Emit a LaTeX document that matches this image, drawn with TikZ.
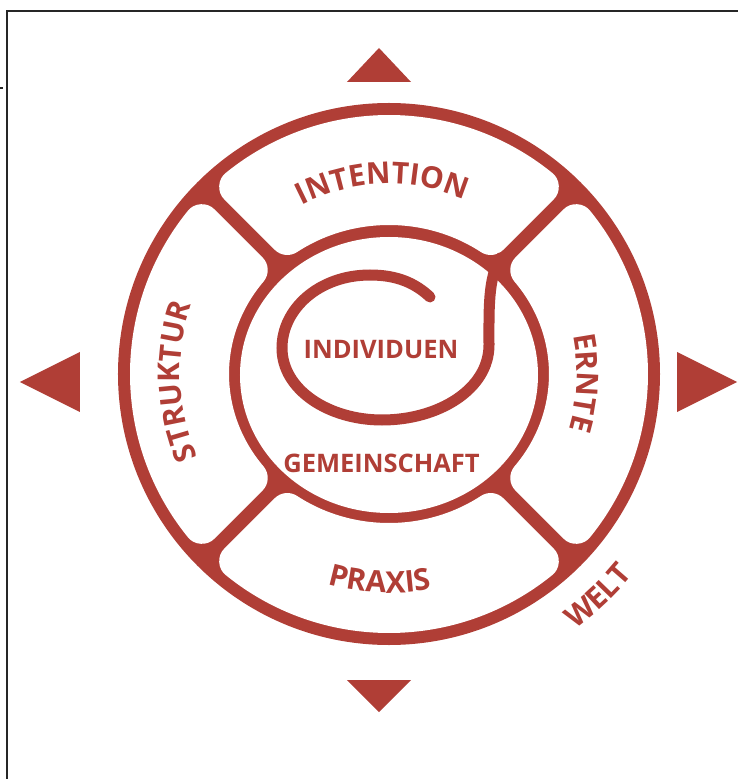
\documentclass[tikz,border=0pt]{standalone}
\usepackage{fontspec}
\setmainfont{Open Sans}
\usetikzlibrary{decorations.text}
\definecolor{rust}{RGB}{176,62,54}
\newcommand{\lblfont}{\bfseries\fontsize{30}{30}\selectfont\color{rust}}
\newcommand{\corefont}{\bfseries\fontsize{25.5}{25.5}\selectfont}
\tikzset{
  frameline/.style={line width=1.4pt, black!85},
  arrowhead/.style={fill=rust},
  cellshape/.style={fill=white, draw=white, line width=36pt, line join=round},
  coretext/.style={text=rust, font=\corefont, inner sep=0pt},
  arclabel/.style={decorate, decoration={text along path, text align=center, text={|\lblfont|#1}}}
}
\begin{document}
\begin{tikzpicture}[x=1pt,y=1pt]
\useasboundingbox (-389,-405) rectangle (349,374);
% partial frame
\draw[frameline] (-382,-405) -- (-382,363) -- (349,363);
\draw[frameline] (-389,286) -- (-386,286);
% direction arrows
\fill[arrowhead] (-10,326) -- (-42,292) -- (22,292) -- cycle;
\fill[arrowhead] (-10,-338) -- (-42,-306) -- (22,-306) -- cycle;
\fill[arrowhead] (-369,-8) -- (-309,22) -- (-309,-38) -- cycle;
\fill[arrowhead] (348,-8) -- (288,22) -- (288,-38) -- cycle;
% red body of the wheel
\fill[rust] (0,0) circle (271);
% four white cells; the shrunken outline is widened by a round-joined
% white stroke, which rounds every corner
\path[cellshape] (50.95:241) arc[start angle=50.95, end angle=129.05, radius=241]
  -- ({178*cos(124.84)},{167*sin(124.84)}) arc[start angle=124.84, end angle=55.16, x radius=178, y radius=167] -- cycle;
\path[cellshape] (-39.05:241) arc[start angle=-39.05, end angle=39.05, radius=241]
  -- ({178*cos(38.5)},{167*sin(38.5)}) arc[start angle=38.5, end angle=-38.5, x radius=178, y radius=167] -- cycle;
\path[cellshape] (230.95:241) arc[start angle=230.95, end angle=309.05, radius=241]
  -- ({178*cos(304.84)},{167*sin(304.84)}) arc[start angle=304.84, end angle=235.16, x radius=178, y radius=167] -- cycle;
\path[cellshape] (140.95:241) arc[start angle=140.95, end angle=219.05, radius=241]
  -- ({178*cos(218.5)},{167*sin(218.5)}) arc[start angle=218.5, end angle=141.5, x radius=178, y radius=167] -- cycle;
% core
\fill[white] (0,-1) ellipse [x radius=149, y radius=138];
% spiral, its outer end running into the ring and the spoke
\draw[rust, line width=11pt, line cap=round]
  (41,77) .. controls (26,91) and (8,99) .. (-19,99)
  .. controls (-70,99) and (-107,65) .. (-107,26)
  .. controls (-107,-16) and (-60,-46) .. (-7,-46)
  .. controls (50,-46) and (100,-15) .. (100,29)
  .. controls (100,65) and (99,95) .. (111,116);
% labels
\node[coretext] (indiv) at (-8,24) {INDIVIDUEN};
\node[coretext] (gemein) at (-7.5,-89.5) {GEMEINSCHAFT};
\path[arclabel=INTENTION] (142:190) arc[start angle=142, end angle=42, radius=190];
\path[arclabel=STRUKTUR] (232:209) arc[start angle=232, end angle=132, radius=209];
\path[arclabel=ERNTE] (47.4:188) arc[start angle=47.4, end angle=-52.6, radius=188];
\path[arclabel=PRAXIS] (217.5:219) arc[start angle=217.5, end angle=317.5, radius=219];
\path[arclabel=WELT] (-76.7:316) arc[start angle=-76.7, end angle=-16.7, radius=316];
\end{tikzpicture}
\end{document}
